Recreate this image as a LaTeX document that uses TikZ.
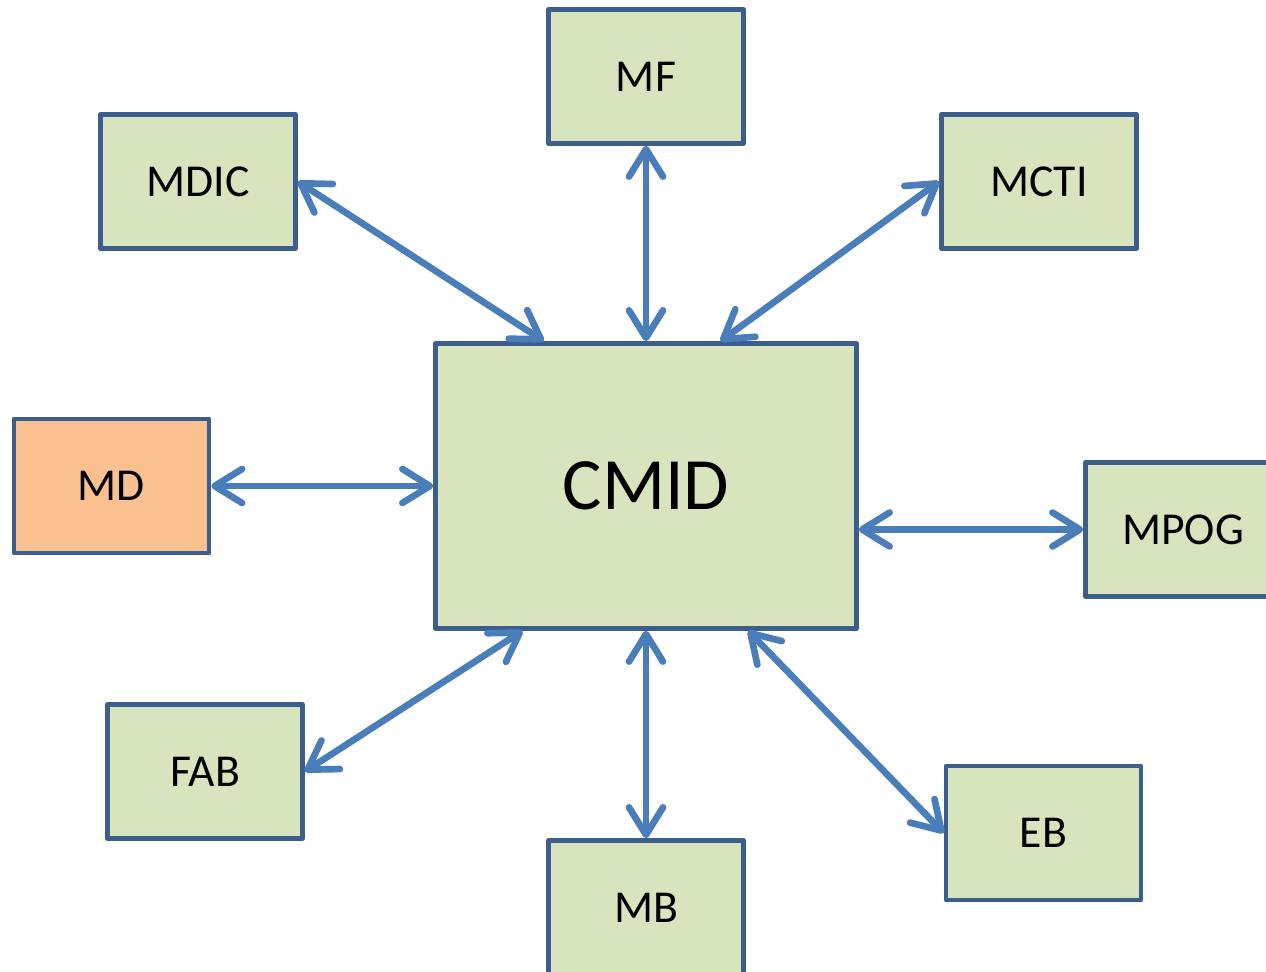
\documentclass[tikz,border=0pt]{standalone}
\usepackage{fontspec}
\setmainfont{Carlito}
\usepackage{xcolor}
\usepackage{tikz}
\usetikzlibrary{arrows.meta,positioning,calc}

\definecolor{boxfill}{HTML}{D7E4BD}
\definecolor{boxline}{HTML}{3B5E8C}
\definecolor{mdfill}{HTML}{FAC090}
\definecolor{linkblue}{HTML}{4A7EBB}

\begin{document}
\begin{tikzpicture}[
  font=\fontsize{26}{30}\selectfont,
  box/.style={draw=boxline, fill=boxfill, line width=2.6pt, line join=round,
    minimum width=3.9cm, minimum height=2.68cm, inner sep=0pt},
  hub/.style={box, minimum width=8.42cm, minimum height=5.7cm,
    font=\fontsize{42}{48}\selectfont},
  link/.style={draw=linkblue, line width=3.8pt,
    {Straight Barb[round, length=0.55cm, width=0.68cm]}-{Straight Barb[round, length=0.55cm, width=0.68cm]}}
]
\useasboundingbox (0,0) rectangle (25.32,19.44);
\clip (0,0) rectangle (25.32,19.44);
% centre
\node[hub] (cmid) at (12.92,9.72) {CMID};
% ministries round it
\node[box] (mf) at (12.92,17.91) {MF};
\node[box] (mdic) at (3.96,15.81) {MDIC};
\node[box] (mcti) at (20.78,15.81) {MCTI};
\node[box, fill=mdfill] (md) at (2.23,9.72) {MD};
\node[box] (mpog) at (23.66,8.85) {MPOG};
\node[box] (fab) at (4.10,4.01) {FAB};
\node[box] (mb) at (12.92,1.29) {MB};
\node[box] (eb) at (20.87,2.78) {EB};
% points on the centre box
\coordinate (tl) at ($(cmid.north west)!0.26!(cmid.north east)$);
\coordinate (tr) at ($(cmid.north west)!0.675!(cmid.north east)$);
\coordinate (bl) at ($(cmid.south west)!0.21!(cmid.south east)$);
\coordinate (br) at ($(cmid.south west)!0.74!(cmid.south east)$);
% links
\draw[link] (mdic.east) -- (tl);
\draw[link] (mf.south) -- (cmid.north);
\draw[link] (mcti.west) -- (tr);
\draw[link] (md.east) -- (cmid.west);
\draw[link] (cmid.east |- mpog.west) -- (mpog.west);
\draw[link] (fab.east) -- (bl);
\draw[link] (mb.north) -- (cmid.south);
\draw[link] (eb.west) -- (br);
\end{tikzpicture}
\end{document}
